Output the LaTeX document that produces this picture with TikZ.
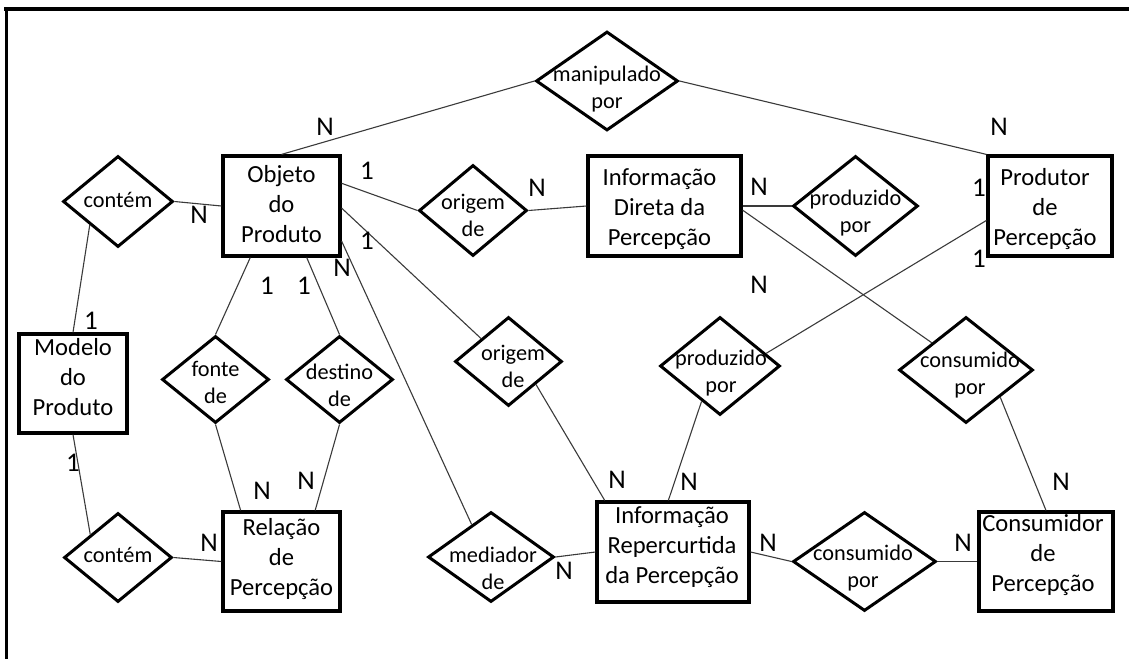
\documentclass[tikz,border=0pt]{standalone}
\usepackage{fontspec}
\setmainfont{Carlito}
\usetikzlibrary{shapes.geometric,calc}
\definecolor{linkgray}{HTML}{3A3A3A}
\definecolor{linkblue}{HTML}{4A7EBB}
\newcommand\entfont{\fontsize{24.6}{30}\selectfont}
\newcommand\relfont{\fontsize{22.3}{27}\selectfont}
\newcommand\cardfont{\fontsize{27}{30}\selectfont}

\begin{document}
\begin{tikzpicture}[x=1pt,y=-1pt,
  ent/.style={draw, line width=3.2pt, inner sep=0pt},
  etext/.style={align=center, font=\entfont, inner sep=0pt},
  rel/.style={draw, diamond, line width=3pt, inner sep=0pt},
  reltext/.style={align=center, font=\relfont, inner sep=0pt},
  card/.style={font=\cardfont, inner sep=0pt},
  link/.style={draw=linkgray, line width=1.1pt},
  frame/.style={line width=3.5pt}]
\useasboundingbox (0,0) rectangle (1129,659);

% outer frame (top and left edges only)
\draw[frame] (4,9) -- (1129,9);
\draw[frame] (6.5,8) -- (6.5,659);

% entities
\node[ent, minimum width=117pt, minimum height=100pt,
  label={[etext, shift={(0,-2)}]center:Objeto\\do\\Produto}] (objeto) at (281.5,206) {};
\node[ent, minimum width=153pt, minimum height=100pt,
  label={[etext, shift={(-5,3)}]center:Informação\\Direta da\\Percepção}] (infodir) at (664.5,206) {};
\node[ent, minimum width=124pt, minimum height=100pt,
  label={[etext, shift={(-5,3)}]center:Produtor\\de\\Percepção}] (produtor) at (1050,206) {};
\node[ent, minimum width=108pt, minimum height=99pt,
  label={[etext, shift={(0,-6.5)}]center:Modelo\\do\\Produto}] (modelo) at (73,383.5) {};
\node[ent, minimum width=117pt, minimum height=99pt,
  label={[etext, shift={(0,-2.5)}]center:Relação\\de\\Percepção}] (relacao) at (281.5,561.5) {};
\node[ent, minimum width=152pt, minimum height=100pt,
  label={[etext, shift={(-1,-5)}]center:Informação\\Repercurtida\\da Percepção}] (inforep) at (673,552) {};
\node[ent, minimum width=134pt, minimum height=99pt,
  label={[etext, shift={(-3,-6.5)}]center:Consumidor\\de\\Percepção}] (consumidor) at (1046,561.5) {};

% relationships
\node[rel, minimum width=142pt, minimum height=99pt,
  label={[reltext, shift={(0,8)}]center:manipulado\\por}] (manip) at (607,81) {};
\node[rel, minimum width=110pt, minimum height=91pt,
  label={[reltext, shift={(0,-1.5)}]center:contém}] (cont1) at (118,201.5) {};
\node[rel, minimum width=108pt, minimum height=91pt,
  label={[reltext, shift={(0,4.5)}]center:origem\\de}] (orig1) at (473,210.5) {};
\node[rel, minimum width=125pt, minimum height=100pt,
  label={[reltext, shift={(0,7)}]center:produzido\\por}] (prod1) at (855.5,206) {};
\node[rel, minimum width=107pt, minimum height=87pt,
  label={[reltext, shift={(0,3)}]center:fonte\\de}] (fonte) at (215.5,379.5) {};
\node[rel, minimum width=107pt, minimum height=87pt,
  label={[reltext, shift={(0,5.5)}]center:destino\\de}] (destino) at (339.5,379.5) {};
\node[rel, minimum width=108pt, minimum height=89pt,
  label={[reltext, shift={(0,-2.5)}]center:contém}] (cont2) at (118,557.5) {};
\node[rel, minimum width=107pt, minimum height=89pt,
  label={[reltext, shift={(4.5,4.5)}]center:origem\\de}] (orig2) at (508.5,361.5) {};
\node[rel, minimum width=120pt, minimum height=98pt,
  label={[reltext, shift={(1,7.5)}]center:produzido\\por}] (prod2) at (720,366) {};
\node[rel, minimum width=126pt, minimum height=90pt,
  label={[reltext, shift={(2,11.5)}]center:mediador\\de}] (mediador) at (491,557) {};
\node[rel, minimum width=134pt, minimum height=106pt,
  label={[reltext, shift={(4,5.5)}]center:consumido\\por}] (cons1) at (966,370) {};
\node[rel, minimum width=143pt, minimum height=99pt,
  label={[reltext, shift={(-1.5,7)}]center:consumido\\por}] (cons2) at (864.5,561.5) {};

% connectors
\draw[link] (manip.west) -- (objeto.north);
\draw[link] (manip.east) -- (produtor.north west);
\draw[link] (cont1.east) -- (objeto.west);
\draw[link] (cont1.south west) -- (modelo.north);
\draw[link] (modelo.south) -- (cont2.north west);
\draw[link] (cont2.east) -- (relacao.west);
\draw[link] ($(objeto.south west)!0.24!(objeto.south east)$) -- (fonte.north);
\draw[link] (fonte.south) -- ($(relacao.north west)!0.16!(relacao.north east)$);
\draw[link] ($(objeto.south west)!0.71!(objeto.south east)$) -- (destino.north);
\draw[link] (destino.south) -- ($(relacao.north west)!0.78!(relacao.north east)$);
\draw[link] ($(objeto.north east)!0.28!(objeto.south east)$) -- (orig1.west);
\draw[link] (orig1.east) -- (infodir.west);
\draw[link] ($(objeto.north east)!0.52!(objeto.south east)$) -- (orig2.north west);
\draw[link] ($(objeto.north east)!0.84!(objeto.south east)$) -- ($(mediador.north)!0.3!(mediador.west)$);
\draw[link] (orig2.south east) -- ($(inforep.north west)!0.06!(inforep.north east)$);
\draw[link] (mediador.east) -- (inforep.west);
\draw[link] ($(prod2.south)!0.3!(prod2.west)$) -- ($(inforep.north west)!0.47!(inforep.north east)$);
\draw[link] ($(prod2.north)!0.75!(prod2.east)$) -- ($(produtor.north west)!0.64!(produtor.south west)$);
\draw[link] (infodir.east) -- (prod1.west);
\draw[draw=linkblue, line width=1.1pt] ($(prod1.east)+(0,-4)$) -- ($(prod1.east)+(0,-4)$ -| produtor.west);
\draw[link] ($(infodir.north east)!0.54!(infodir.south east)$) -- (cons1.north west);
\draw[link] (cons1.south east) -- (consumidor.north);
\draw[link] (inforep.east) -- (cons2.west);
\draw[link] (cons2.east) -- (consumidor.west);

% cardinalities
\node[card] (c-manip-obj) at (325,127) {N};
\node[card] (c-manip-prod) at (999,127) {N};
\node[card] (c-obj-orig1) at (367,171) {1};
\node[card] (c-cont1-obj) at (199,215) {N};
\node[card] (c-obj-orig2) at (367,241) {1};
\node[card] (c-obj-med) at (342,268) {N};
\node[card] (c-obj-fonte) at (267,286) {1};
\node[card] (c-obj-dest) at (304,286) {1};
\node[card] (c-mod-cont1) at (91,321) {1};
\node[card] (c-orig1-info) at (537,188) {N};
\node[card] (c-info-prod1) at (759,187) {N};
\node[card] (c-info-cons1) at (759,285) {N};
\node[card] (c-prod1-prod) at (979,188) {1};
\node[card] (c-prod2-prod) at (979,259) {1};
\node[card] (c-mod-cont2) at (73,463) {1};
\node[card] (c-fonte-rel) at (262,491) {N};
\node[card] (c-dest-rel) at (306,481) {N};
\node[card] (c-cont2-rel) at (209,543) {N};
\node[card] (c-orig2-rep) at (617,480) {N};
\node[card] (c-prod2-rep) at (689,482) {N};
\node[card] (c-med-rep) at (564,571) {N};
\node[card] (c-rep-cons2) at (768,543) {N};
\node[card] (c-cons2-cons) at (963,543) {N};
\node[card] (c-cons1-cons) at (1061,482) {N};
\end{tikzpicture}
\end{document}
